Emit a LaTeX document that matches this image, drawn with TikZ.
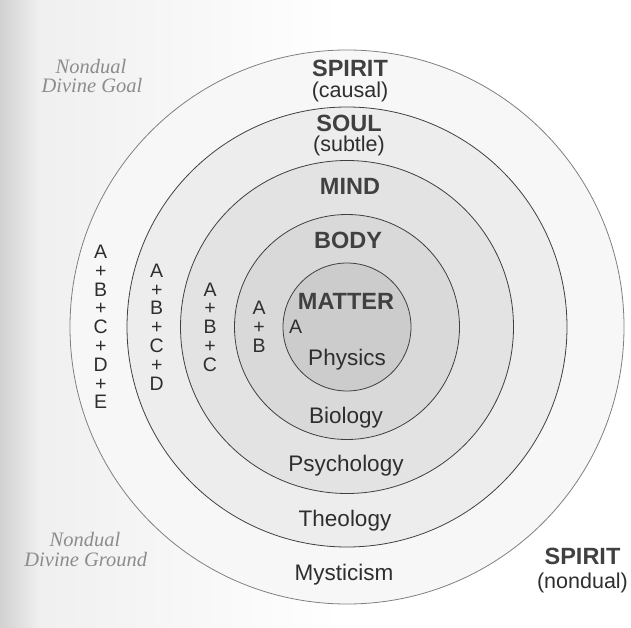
\documentclass[tikz,border=0pt]{standalone}
\usepackage{fontspec}
\setmainfont{Liberation Sans}
\newfontfamily\notefont{Liberation Serif}
\usetikzlibrary{positioning,shapes}
\tikzstyle{ring}=[circle, draw=black!75, line width=.8pt, inner sep=0pt]
\tikzstyle{level}=[anchor=base, inner sep=0pt, text=black!75, font=\fontsize{23.5}{24}\selectfont\bfseries]
\tikzstyle{field}=[anchor=base, inner sep=0pt, text=black!82, font=\fontsize{22.5}{24}\selectfont]
\tikzstyle{sub}=[field, font=\fontsize{21.5}{24}\selectfont]
\tikzstyle{note}=[anchor=base, inner sep=0pt, text=black!45, font=\fontsize{20.5}{22}\selectfont\notefont\itshape]
\tikzstyle{stack}=[align=center, inner sep=0pt, text=black!82, font=\fontsize{19.5}{18.8}\selectfont]

\begin{document}
\begin{tikzpicture}[
        x=1pt, y=-1pt,
        outer/.style={ring, draw=black!50, fill=black!3},
      ]
      \useasboundingbox (0,0) rectangle (631,628);
      % scanned page shade on the left
      \fill [white] (0,0) rectangle (631,628);
      \shade [left color=black!18, right color=black!6] (0,0) rectangle (40,628);
      \shade [left color=black!6, right color=white] (40,0) rectangle (340,628);

      \coordinate (Centre) at (347,327);
      \node (Spirit) [outer, minimum size=554pt] at (Centre) {};
      \node (Soul) [ring, minimum size=440pt, fill=black!7] at (Centre) {};
      \node (Mind) [ring, minimum size=333pt, fill=black!11] at (Centre) {};
      \node (Body) [ring, minimum size=225pt, fill=black!15] at (Centre) {};
      \node (Matter) [ring, minimum size=128pt, fill=black!20] at (Centre) {};

      \node (SpiritName) [level] at (350,76.5) {SPIRIT};
      \node (SpiritSub) [sub] at (350,98) {(causal)};
      \node (SoulName) [level] at (349,131.5) {SOUL};
      \node (SoulSub) [sub] at (349,152) {(subtle)};
      \node (MindName) [level] at (350,195) {MIND};
      \node (BodyName) [level] at (348,248) {BODY};
      \node (MatterName) [level] at (346,309) {MATTER};

      \node (Physics) [field] at (347,365) {Physics};
      \node (Biology) [field] at (346,423) {Biology};
      \node (Psychology) [field] at (346,471) {Psychology};
      \node (Theology) [field] at (345,526) {Theology};
      \node (Mysticism) [field] at (344,580) {Mysticism};

      \node (StackA) [field, font=\fontsize{19.5}{18.8}\selectfont] at (295.7,333.3) {A};
      \node (StackAB) [stack] at (259,327) {A\\+\\B};
      \node (StackABC) [stack] at (210,327) {A\\+\\B\\+\\C};
      \node (StackABCD) [stack] at (156.7,327) {A\\+\\B\\+\\C\\+\\D};
      \node (StackABCDE) [stack] at (100.7,327) {A\\+\\B\\+\\C\\+\\D\\+\\E};

      \node (NondualName) [level] at (582.5,564) {SPIRIT};
      \node (NondualSub) [sub] at (582.5,588) {(nondual)};

      \node (GoalTop) [note] at (91,73.3) {Nondual};
      \node (Goal) [note] at (92,92.3) {Divine Goal};
      \node (GroundTop) [note] at (85,546.7) {Nondual};
      \node (Ground) [note] at (85.8,566) {Divine Ground};
    \end{tikzpicture}
\end{document}
